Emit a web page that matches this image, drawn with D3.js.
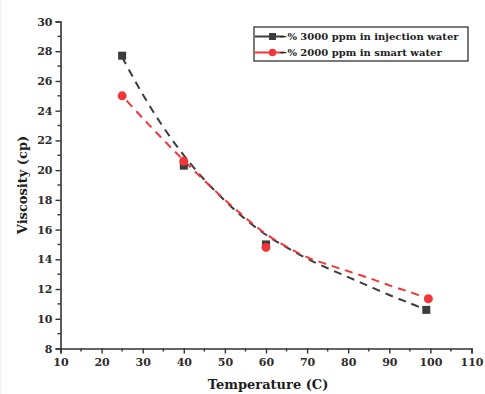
<!DOCTYPE html>
<html>
<head>
<meta charset="utf-8">
<script src="https://cdn.jsdelivr.net/npm/d3@7"></script>
<style>
  body { margin: 0; background: #fff; }
  svg { display: block; }
  .axis-title { font-family: "DejaVu Serif", "Liberation Serif", serif; font-weight: bold; font-size: 13px; fill: #1e1e1e; }
  .legend-text { font-family: "DejaVu Serif", "Liberation Serif", serif; font-weight: bold; font-size: 10px; fill: #222; }
</style>
</head>
<body>
<svg width="485" height="394"></svg>
<script>
  // measured points
  const temps3000 = [25, 40, 60, 99];
  const visc3000 = [27.7, 20.3, 15.0, 10.6];
  const temps2000 = [25, 40, 60, 99.5];
  const visc2000 = [25.0, 20.6, 14.8, 11.35];

  // fitted curves
  const fitTemps3000 = [25, 30, 35, 40, 45, 50, 55, 60, 65, 70, 75, 80, 85, 90, 95, 99];
  const fitVisc3000 = [27.6, 25.1, 22.9, 21.0, 19.35, 17.95, 16.7, 15.65, 14.8, 14.05, 13.4, 12.8, 12.2, 11.6, 11.05, 10.6];
  const fitTemps2000 = [25, 30, 35, 40, 45, 50, 55, 60, 65, 70, 75, 80, 85, 90, 95, 99.5];
  const fitVisc2000 = [25.0, 23.5, 22.05, 20.65, 19.3, 18.0, 16.8, 15.7, 14.85, 14.15, 13.65, 13.2, 12.75, 12.25, 11.8, 11.35];

  const xTicks = [10, 20, 30, 40, 50, 60, 70, 80, 90, 100, 110];
  const yTicks = [8, 10, 12, 14, 16, 18, 20, 22, 24, 26, 28, 30];
  const seriesNames = ['\u2212% 3000 ppm in injection water', '\u2212% 2000 ppm in smart water'];

  const svg = d3.select('svg');
  const black = '#3d3d3d', red = '#f2373b';

  svg.append('line')
    .attr('x1', 1).attr('x2', 1).attr('y1', 0).attr('y2', 394)
    .attr('stroke', '#ececec');

  const x = d3.scaleLinear().domain([10, 110]).range([60.5, 471.5]);
  const y = d3.scaleLinear().domain([8, 30]).range([348.5, 21.5]);

  const styleLabels = sel => sel
    .style('font-family', '"DejaVu Serif", "Liberation Serif", serif')
    .style('font-weight', 'bold')
    .style('font-size', '11px')
    .style('fill', '#2f2b2b');

  // y axis
  const yAxis = svg.append('g')
    .attr('transform', `translate(${x(10)},0)`)
    .call(d3.axisLeft(y).tickValues(yTicks).tickSize(5).tickFormat(d3.format('d')));
  yAxis.select('.domain').attr('stroke', '#333').attr('stroke-width', 1.6);
  yAxis.selectAll('.tick line').attr('stroke', '#333').attr('stroke-width', 1.4);
  yAxis.selectAll('.tick text').attr('x', -8).call(styleLabels);
  yAxis.append('g').selectAll('line')
    .data(d3.range(9, 30, 2))
    .join('line')
      .attr('x1', 0).attr('x2', -3)
      .attr('y1', d => y(d)).attr('y2', d => y(d))
      .attr('stroke', '#333').attr('stroke-width', 1.4);

  // x axis
  const xAxis = svg.append('g')
    .attr('transform', `translate(0,${y(8)})`)
    .call(d3.axisBottom(x).tickValues(xTicks).tickSize(5).tickFormat(d3.format('d')));
  xAxis.select('.domain').attr('stroke', '#333').attr('stroke-width', 1.6);
  xAxis.selectAll('.tick line').attr('stroke', '#333').attr('stroke-width', 1.4);
  xAxis.selectAll('.tick text').attr('y', 10).call(styleLabels);
  xAxis.append('g').selectAll('line')
    .data(d3.range(15, 110, 10))
    .join('line')
      .attr('x1', d => x(d)).attr('x2', d => x(d))
      .attr('y1', 0).attr('y2', 3)
      .attr('stroke', '#333').attr('stroke-width', 1.4);
  svg.selectAll('.domain').attr('d', function () { return d3.select(this).attr('d').replace(/V6|H-6/g, ''); });

  // axis titles
  svg.append('text')
    .attr('class', 'axis-title')
    .attr('transform', `translate(27,${y(19)}) rotate(-90)`)
    .attr('text-anchor', 'middle')
    .text('Viscosity (cp)');
  svg.append('text')
    .attr('class', 'axis-title')
    .attr('x', x(60.5)).attr('y', 389)
    .attr('text-anchor', 'middle')
    .text('Temperature (C)');

  // fitted dashed curves
  const line = d3.line().x(d => x(d[0])).y(d => y(d[1])).curve(d3.curveCatmullRom);
  svg.append('path')
    .datum(d3.zip(fitTemps3000, fitVisc3000))
    .attr('d', line)
    .attr('fill', 'none').attr('stroke', black).attr('stroke-width', 2)
    .attr('stroke-dasharray', '8,6');
  svg.append('path')
    .datum(d3.zip(fitTemps2000, fitVisc2000))
    .attr('d', line)
    .attr('fill', 'none').attr('stroke', red).attr('stroke-width', 2)
    .attr('stroke-dasharray', '8,6').attr('stroke-dashoffset', 7);

  // markers
  svg.append('g').selectAll('rect')
    .data(d3.zip(temps3000, visc3000))
    .join('rect')
      .attr('x', d => x(d[0]) - 4).attr('y', d => y(d[1]) - 4)
      .attr('width', 8).attr('height', 8)
      .attr('fill', black);
  svg.append('g').selectAll('circle')
    .data(d3.zip(temps2000, visc2000))
    .join('circle')
      .attr('cx', d => x(d[0])).attr('cy', d => y(d[1]))
      .attr('r', 4.5)
      .attr('fill', red);

  // legend
  const legend = svg.append('g').attr('transform', 'translate(254,27)');
  legend.append('rect')
    .attr('width', 214).attr('height', 34)
    .attr('fill', '#fff').attr('stroke', '#333').attr('stroke-width', 1.3);
  const rows = legend.selectAll('g.row')
    .data(seriesNames)
    .join('g')
      .attr('class', 'row')
      .attr('transform', (d, i) => `translate(0,${9.5 + i * 16})`);
  rows.append('line')
    .attr('x1', 1).attr('x2', 30)
    .attr('stroke', (d, i) => i ? red : black).attr('stroke-width', 2);
  rows.each(function (d, i) {
    const r = d3.select(this);
    if (i === 0) {
      r.append('rect').attr('x', 15).attr('y', -3.5).attr('width', 7).attr('height', 7).attr('fill', black);
    } else {
      r.append('circle').attr('cx', 18.5).attr('cy', 0).attr('r', 3.8).attr('fill', red);
    }
  });
  rows.append('text')
    .attr('class', 'legend-text')
    .attr('x', 25).attr('dy', '0.35em')
    .text(d => d);
</script>
</body>
</html>
